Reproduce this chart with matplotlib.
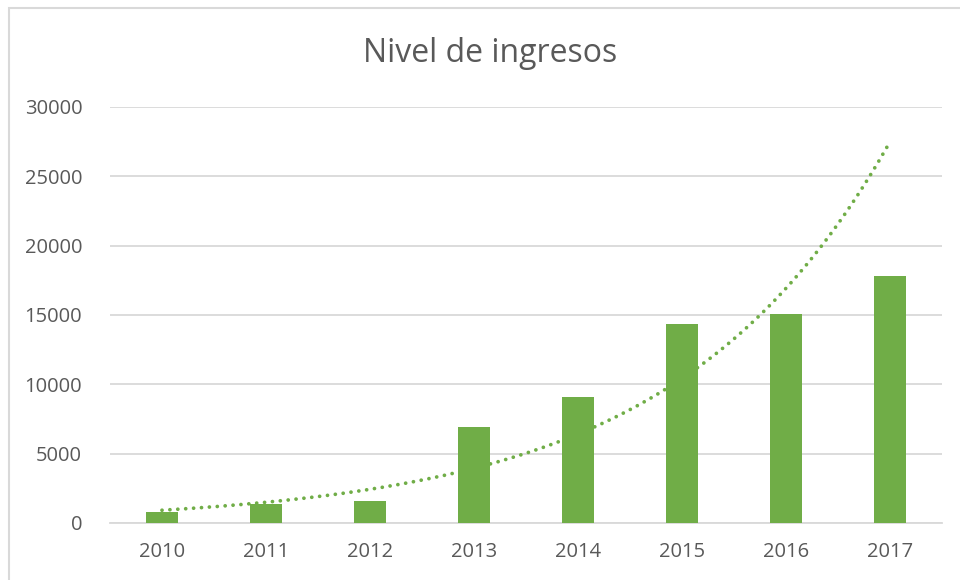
import matplotlib
matplotlib.use("Agg")
import matplotlib.pyplot as plt
import numpy as np
from matplotlib.patches import Rectangle

# data
years = ['2010', '2011', '2012', '2013', '2014', '2015', '2016', '2017']
ingresos = [780, 1370, 1590, 6920, 9080, 14350, 15070, 17810]
y_ticks = [0, 5000, 10000, 15000, 20000, 25000, 30000]

bar_color = '#70ad47'
grid_color = '#d9d9d9'
text_color = '#595959'

plt.rcParams['font.family'] = ['Open Sans', 'DejaVu Sans']

fig = plt.figure(figsize=(9.6, 5.8), dpi=100)
ax = fig.add_axes([110 / 960, 1 - 523 / 580, 832 / 960, 416 / 580])

x = np.arange(len(years))
ax.bar(x, ingresos, width=0.31, color=bar_color, zorder=3)

# exponential trendline (Excel style: fit on x = 1..n)
xn = np.arange(1, len(years) + 1)
b, a = np.polyfit(xn, np.log(ingresos), 1)
xs = np.linspace(1, len(years), 200)
ax.plot(xs - 1, np.exp(a + b * xs), color=bar_color, lw=2.7,
        linestyle=(0, (0.01, 2.1)), dash_capstyle='round', zorder=4)

ax.set_xlim(-0.5, len(years) - 0.5)
ax.set_ylim(0, 30000)
ax.set_yticks(y_ticks)
ax.set_yticklabels([str(v) for v in y_ticks])
ax.set_xticks(x)
ax.set_xticklabels(years)
ax.tick_params(axis='both', length=0, labelsize=14.5, colors=text_color)
ax.tick_params(axis='y', pad=20)
ax.tick_params(axis='x', pad=14)

ax.yaxis.grid(True, color=grid_color, lw=1.3, zorder=0)
ax.set_axisbelow(True)
for side in ['top', 'right', 'left']:
    ax.spines[side].set_visible(False)
ax.spines['bottom'].set_color(grid_color)
ax.spines['bottom'].set_linewidth(1.3)

fig.text(490 / 960, 1 - 53 / 580, 'Nivel de ingresos', ha='center', va='center',
         fontsize=23, color=text_color)

# chart area border
fig.patches.append(Rectangle((9 / 960, -0.1), 1.2, 1 - 8 / 580 + 0.1,
                             transform=fig.transFigure, fill=False,
                             edgecolor=grid_color, lw=1.5))

fig.savefig('out.png', dpi=100)
